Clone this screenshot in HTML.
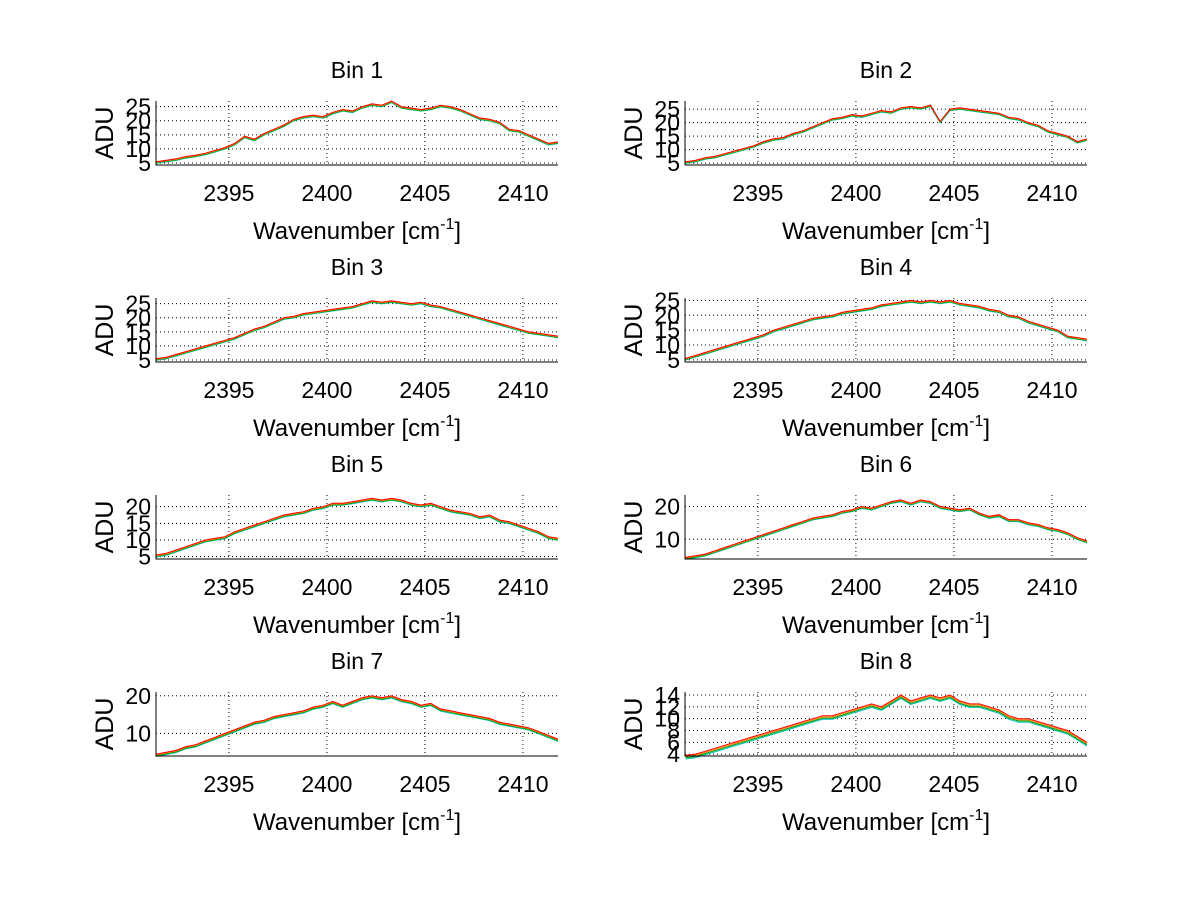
<!DOCTYPE html>
<html><head><meta charset="utf-8"><style>
html,body{margin:0;padding:0;background:#fff;}
svg{display:block;font-family:"Liberation Sans",sans-serif;}
</style></head><body>
<svg id="fig" width="1200" height="901" viewBox="0 0 1200 901"></svg>
<script>
const xStart = 2391.3;
const xStep = 0.5;
const xTicks = [2395, 2400, 2405, 2410];
const bin1 = [5.5,6,6.5,7.3,7.8,8.5,9.5,10.5,12,14.5,13.5,15.5,17,18.5,20.5,21.5,22,21.5,23,24,23.5,25,26,25.5,27,25,24.5,24,24.5,25.5,25,24,22.5,21,20.5,19.5,17,16.5,15,13.5,12,12.5];
const bin2 = [5.5,6,7,7.5,8.5,9.5,10.5,11.5,13,14,14.5,16,17,18.5,20,21.5,22,23,22.5,23.5,24.5,24,25.5,26,25.5,26.5,20.5,25,25.5,25,24.5,24,23.5,22,21.5,20,19,17,16,15,13,14];
const bin3 = [5.5,6,7,8,9,10,11,12,13,14.5,16,17,18.5,20,20.5,21.5,22,22.5,23,23.5,24,25,26,25.5,26,25.5,25,25.5,24.5,24,23,22,21,20,19,18,17,16,15,14.5,14,13.5];
const bin4 = [5.5,6.5,7.5,8.5,9.5,10.5,11.5,12.5,13.5,15,16,17,18,19,19.5,20,21,21.5,22,22.5,23.5,24,24.5,25,24.5,25,24.5,25,24,23.5,23,22,21.5,20,19.5,18,17,16,15,13,12.5,12];
const bin5 = [5.5,6,7,8,9,10,10.5,11,12.5,13.5,14.5,15.5,16.5,17.5,18,18.5,19.5,20,21,21,21.5,22,22.5,22,22.5,22,21,20.5,21,20,19,18.5,18,17,17.5,16,15.5,14.5,13.5,12.5,11,10.5];
const bin6 = [4.5,5,5.5,6.5,7.5,8.5,9.5,10.5,11.5,12.5,13.5,14.5,15.5,16.5,17,17.5,18.5,19,20,19.5,20.5,21.5,22,21,22,21.5,20,19.5,19,19.5,18,17,17.5,16,16,15,14.5,13.5,13,12,10.5,9.5];
const bin7 = [4.5,5,5.5,6.5,7,8,9,10,11,12,13,13.5,14.5,15,15.5,16,17,17.5,18.5,17.5,18.5,19.5,20,19.5,20,19,18.5,17.5,18,16.5,16,15.5,15,14.5,14,13,12.5,12,11.5,10.5,9.5,8.5];
const bin8 = [3.8,4,4.5,5,5.5,6,6.5,7,7.5,8,8.5,9,9.5,10,10.5,10.5,11,11.5,12,12.5,12,13,14,13,13.5,14,13.5,14,13,12.5,12.5,12,11.5,10.5,10,10,9.5,9,8.5,8,7,6];
const yTicks1 = [5,10,15,20,25];
const yTicks5 = [5,10,15,20];
const yTicks6 = [10,20];
const yTicks8 = [4,6,8,10,12,14];
const yRanges = [[4.3,27],[4.3,28],[4.3,27],[4.3,25.8],[4.3,23.5],[4,23.5],[4,21],[3.7,14.5]];
const seriesOffsets = [-0.6,-0.4,-0.2,0];
const bins = [bin1,bin2,bin3,bin4,bin5,bin6,bin7,bin8];
const binTicks = [yTicks1,yTicks1,yTicks1,yTicks1,yTicks5,yTicks6,yTicks6,yTicks8];
const colors = ['#00bfbf','#00a000','#ff8000','#ff0000'];
const NS='http://www.w3.org/2000/svg';
const svg=document.getElementById('fig');
function mk(tag,attrs,parent){const e=document.createElementNS(NS,tag);for(const k in attrs)e.setAttribute(k,attrs[k]);(parent||svg).appendChild(e);return e;}
const xMin=2391.28, xMax=2411.79;
for(let b=0;b<8;b++){
  const col=b%2,row=Math.floor(b/2);
  const L=col?685:156, R=col?1087:558, T=101+row*197, B=T+64;
  const [y0,y1]=yRanges[b];
  const sx=v=>L+(v-xMin)/(xMax-xMin)*(R-L);
  const sy=v=>B-(v-y0)/(y1-y0)*(B-T);
  const g=mk('g',{});
  
  
  xTicks.forEach(t=>{const l=mk('line',{x1:sx(t),x2:sx(t),y1:T,y2:B,stroke:'#000','stroke-width':1,'stroke-dasharray':'1 3'},g);
    
    const tx=mk('text',{x:sx(t),y:B+36,'font-size':23,'text-anchor':'middle'},g);tx.textContent=t;
    });
  binTicks[b].forEach(t=>{const l=mk('line',{x1:L,x2:R,y1:sy(t),y2:sy(t),stroke:'#000','stroke-width':1,'stroke-dasharray':'1 3'},g);
    
    const tx=mk('text',{x:L-5,y:sy(t)+8,'font-size':23,'text-anchor':'end'},g);tx.textContent=t;
    });
  seriesOffsets.forEach((o,si)=>{
    const pts=bins[b].map((v,i)=>sx(Math.min(xStart+i*xStep,xMax)).toFixed(1)+','+sy(v+o).toFixed(1)).join(' ');
    const p=mk('polyline',{points:pts,fill:'none',stroke:colors[si],'stroke-width':1},g);
    
    
  });
  const ax=mk('path',{d:`M${L},${T}V${B}H${R}`,fill:'none',stroke:'#000','stroke-width':1},g);
  
  const ti=mk('text',{x:(L+R)/2,y:T-23,'font-size':23,'text-anchor':'middle'},g);ti.textContent='Bin '+(b+1);
  
  const xl=mk('text',{x:(L+R)/2,y:B+74,'font-size':24,'text-anchor':'middle'},g);
  xl.innerHTML='Wavenumber [cm<tspan dy="-10" font-size="16">-1</tspan><tspan dy="10">]</tspan>';
  
  const cx=L-52, cy=(T+B)/2;
  const yl=mk('text',{x:cx,y:cy+9,'font-size':25,'text-anchor':'middle',transform:`rotate(-90 ${cx} ${cy})`},g);yl.textContent='ADU';
  
}
</script>
</body></html>
